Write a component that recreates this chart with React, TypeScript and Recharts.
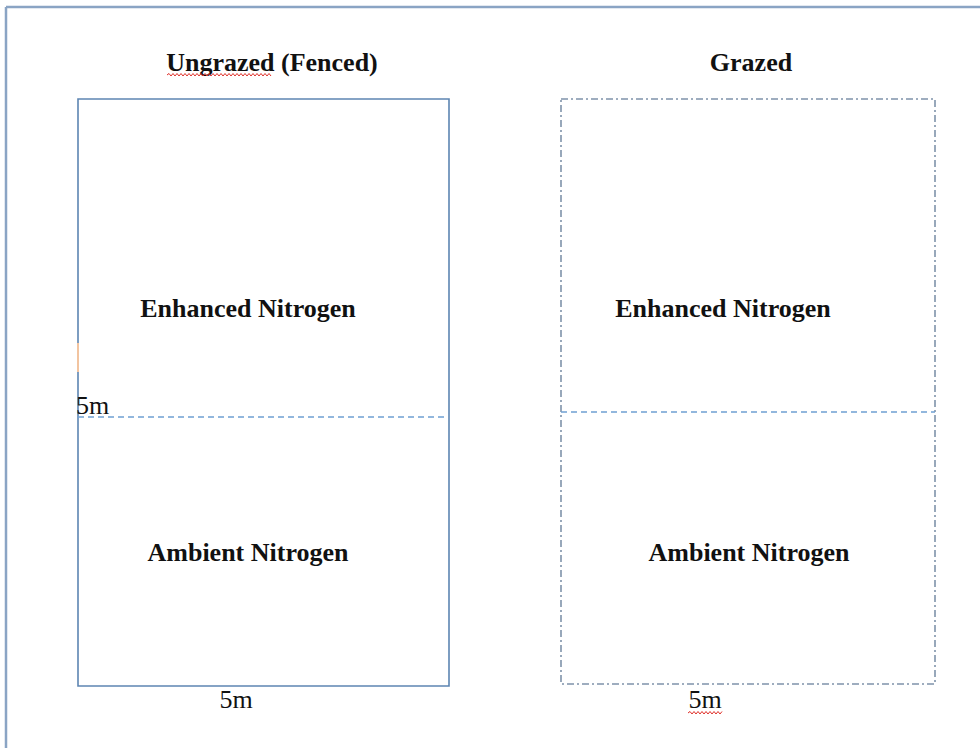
import { ComposedChart, XAxis, YAxis, ReferenceArea, ReferenceLine, Scatter } from 'recharts';

// page layout units (px of the 980x748 picture)
const plotNames = ['Ungrazed (Fenced)', 'Grazed'];
const plotX1 = [78, 561];
const plotX2 = [449, 935];
const plotY1 = [99, 99];
const plotY2 = [686, 684];
const splitY = [417, 412];
const splitX2 = [445, 935];

const titles = [
    { x: 272, y: 62, text: 'Ungrazed', rest: ' (Fenced)', squiggle: [-105, 0] },
    { x: 751, y: 62, text: 'Grazed', rest: '', squiggle: null },
];
const treatments = [
    { x: 248, y: 308, text: 'Enhanced Nitrogen' },
    { x: 723, y: 308, text: 'Enhanced Nitrogen' },
    { x: 248, y: 552, text: 'Ambient Nitrogen' },
    { x: 749, y: 552, text: 'Ambient Nitrogen' },
];
const sizeLabels = [
    { x: 76, y: 405, text: '5m', anchor: 'start', squiggle: null },
    { x: 236, y: 699, text: '5m', anchor: 'middle', squiggle: null },
    { x: 705, y: 699, text: '5m', anchor: 'middle', squiggle: [-17, 17] },
];

const FONT = '"Liberation Serif", "Times New Roman", serif';

// spell-check style red wavy line
function wave(x1: number, x2: number, y: number) {
    let d = `M${x1},${y}`;
    let up = true;
    for (let x = x1 + 2; x <= x2; x += 2) {
        d += ` L${x},${up ? y - 1.5 : y + 1}`;
        up = !up;
    }
    return <path d={d} fill="none" stroke="#e0302a" strokeWidth={1} />;
}

const TitleShape = (p: any) => (
    <g>
        <text x={p.cx} y={p.cy} textAnchor="middle" dominantBaseline="central" fontFamily={FONT} fontWeight="bold" fontSize={26} fill="#111">
            {p.payload.text + p.payload.rest}
        </text>
        {p.payload.squiggle ? wave(p.cx + p.payload.squiggle[0], p.cx + p.payload.squiggle[1], p.cy + 13) : null}
    </g>
);

const TreatmentShape = (p: any) => (
    <text x={p.cx} y={p.cy} textAnchor="middle" dominantBaseline="central" fontFamily={FONT} fontWeight="bold" fontSize={26} fill="#111">
        {p.payload.text}
    </text>
);

const SizeShape = (p: any) => (
    <g>
        <text x={p.cx} y={p.cy} textAnchor={p.payload.anchor} dominantBaseline="central" fontFamily={FONT} fontSize={26} fill="#111">
            {p.payload.text}
        </text>
        {p.payload.squiggle ? wave(p.cx + p.payload.squiggle[0], p.cx + p.payload.squiggle[1], p.cy + 14) : null}
    </g>
);

export default function App() {
    return (
        <div style={{ position: 'absolute', left: 0, top: 0, background: '#fff' }}>
            <ComposedChart width={980} height={748} margin={{ top: 0, right: 0, bottom: 0, left: 0 }}>
                <XAxis type="number" dataKey="x" domain={[0, 980]} hide allowDataOverflow />
                <YAxis type="number" dataKey="y" domain={[0, 748]} reversed hide allowDataOverflow />

                {/* outer page frame, only left and top edges visible */}
                <ReferenceLine segment={[{ x: 6, y: 7 }, { x: 980, y: 7 }]} stroke="#8aa4c4" strokeWidth={2.5} ifOverflow="visible" />
                <ReferenceLine segment={[{ x: 6, y: 7 }, { x: 6, y: 748 }]} stroke="#8aa4c4" strokeWidth={2.5} ifOverflow="visible" />

                {plotNames.map((n, i) => (
                    <ReferenceArea
                        key={n}
                        x1={plotX1[i]}
                        x2={plotX2[i]}
                        y1={plotY1[i]}
                        y2={plotY2[i]}
                        fill="none"
                        fillOpacity={0}
                        stroke={i === 0 ? '#5d85b2' : '#7f93aa'}
                        strokeWidth={1.6}
                        strokeDasharray={i === 0 ? undefined : '7 3 2 3'}
                        ifOverflow="visible"
                    />
                ))}
                {plotNames.map((n, i) => (
                    <ReferenceLine
                        key={n + '-split'}
                        segment={[{ x: plotX1[i], y: splitY[i] }, { x: splitX2[i], y: splitY[i] }]}
                        stroke="#6fa0d2"
                        strokeWidth={1.3}
                        strokeDasharray="6 4"
                        ifOverflow="visible"
                    />
                ))}
                {/* small orange mark on the left edge */}
                <ReferenceLine segment={[{ x: 78, y: 343 }, { x: 78, y: 372 }]} stroke="#f2c4a0" strokeWidth={2} ifOverflow="visible" />

                <Scatter data={titles} dataKey="y" shape={TitleShape} isAnimationActive={false} />
                <Scatter data={treatments} dataKey="y" shape={TreatmentShape} isAnimationActive={false} />
                <Scatter data={sizeLabels} dataKey="y" shape={SizeShape} isAnimationActive={false} />
            </ComposedChart>
        </div>
    );
}
